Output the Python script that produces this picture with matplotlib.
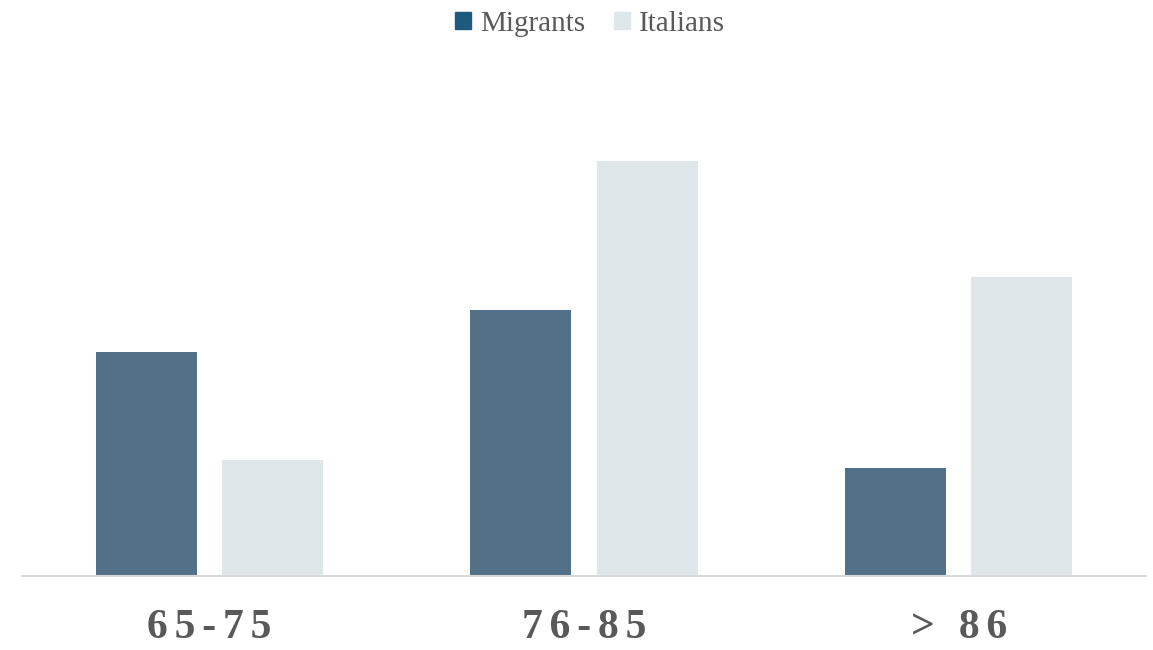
import numpy as np
import matplotlib.pyplot as plt
from matplotlib.patches import Patch

categories = ['65-75', '76-85', '> 86']
migrants = [27, 32, 13]
italians = [14, 50, 36]

bar_color_m = '#527087'
bar_color_i = '#dfe7eb'
legend_color_m = '#1f5a7c'

plt.rcParams['font.family'] = ['Liberation Serif', 'DejaVu Serif']

fig = plt.figure(figsize=(11.53, 6.5), dpi=100)
ax = fig.add_axes([22 / 1153, 74 / 650, 1124 / 1153, 498 / 650])

x = np.arange(len(categories))
w = 0.27
gap = 0.067
ax.bar(x - (w + gap) / 2, migrants, w, color=bar_color_m)
ax.bar(x + (w + gap) / 2, italians, w, color=bar_color_i)

ax.set_xlim(-0.5, 2.5)
ax.set_ylim(0, 60)
ax.set_yticks([])
for s in ['top', 'right', 'left']:
    ax.spines[s].set_visible(False)
ax.spines['bottom'].set_color('#d9d9d9')
ax.spines['bottom'].set_linewidth(1.5)

# letter-spaced tick labels
spaced = ['\u2006'.join(c for c in lab) for lab in categories]
ax.set_xticks(x)
ax.set_xticklabels(spaced, fontsize=30, fontweight='bold', color='#595959')
ax.tick_params(axis='x', length=0, pad=24)

handles = [Patch(color=legend_color_m, label='Migrants'),
           Patch(color=bar_color_i, label='Italians')]
fig.legend(handles=handles, loc='center', bbox_to_anchor=(590 / 1153, 1 - 24 / 650),
           ncol=2, frameon=False, fontsize=21, labelcolor='#595959',
           handlelength=0.55, handleheight=0.55, handletextpad=0.3, columnspacing=1.0)

plt.savefig('out.png', dpi=100)
